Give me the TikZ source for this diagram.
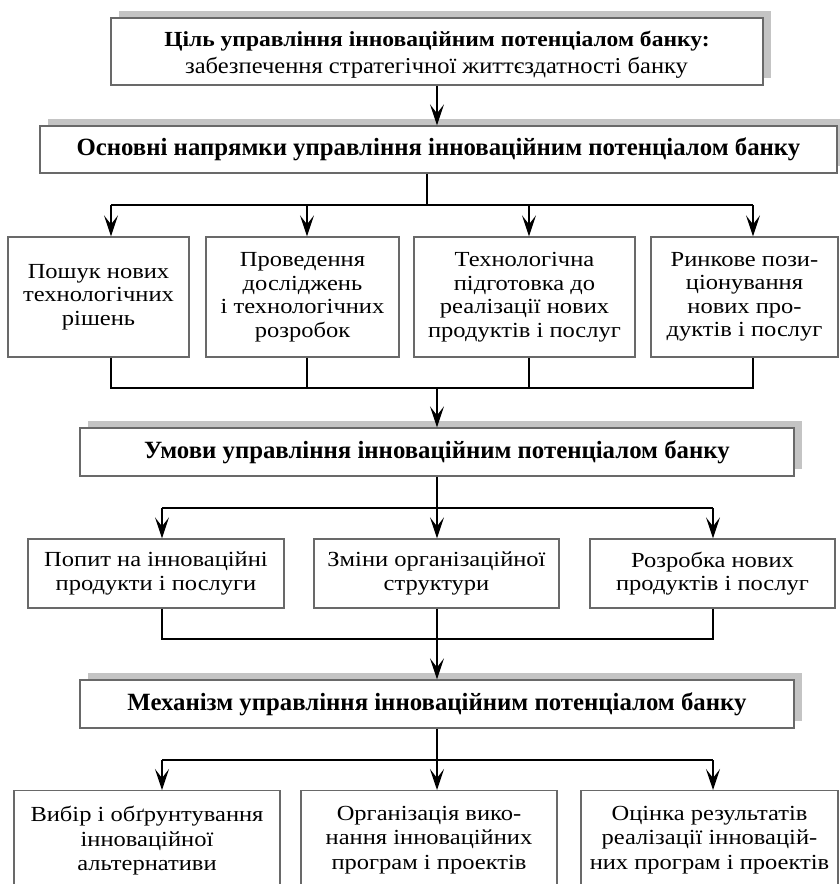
\documentclass[tikz,border=0pt]{standalone}
\usepackage{fontspec}
\setmainfont{Liberation Serif}[FakeStretch=1.14]
\newfontfamily\goalfont{Liberation Serif}[FakeStretch=1.095]
\newfontfamily\goalnormal{Liberation Serif}[FakeStretch=1.08]
\newfontfamily\headfont{Liberation Serif}
\usetikzlibrary{arrows.meta,shadows}
\definecolor{boxgray}{RGB}{105,105,105}
\definecolor{shadowgray}{RGB}{196,196,196}
\tikzset{
  box/.style={draw=boxgray, line width=1.3pt, fill=white, align=center, inner sep=0pt,
    font=\fontsize{21.5}{23.5}\selectfont},
  shadowed/.style={drop shadow={shadow xshift=8pt, shadow yshift=7pt, fill=shadowgray, opacity=1}},
  headbox/.style={box, shadowed, font=\headfont\bfseries\fontsize{24.8}{28}\selectfont},
  txt/.style={align=center, inner sep=0pt, font=\fontsize{21.5}{24.5}\selectfont},
  conn/.style={line width=1.4pt, black},
  arr/.style={conn, -{Stealth[length=21pt,width=14pt,inset=9pt]}},
}
\begin{document}
\begin{tikzpicture}[x=1pt,y=-1pt]
\path[use as bounding box] (0,0) rectangle (840,884);
\clip (0,0) rectangle (840,884);

% level 1
\node[box, shadowed, minimum width=652, minimum height=67] (goal) at (437,51.5) {};
\node[inner sep=0pt, anchor=base, font=\goalfont\bfseries\fontsize{21.5}{25}\selectfont] (g1) at (437,46.7)
  {Ціль управління інноваційним потенціалом банку:};
\node[inner sep=0pt, anchor=base, font=\goalnormal\fontsize{22.7}{25}\selectfont] (g2) at (436.5,73.3)
  {забезпечення стратегічної життєздатності банку};
\node[headbox, minimum width=797, minimum height=47] (dirs) at (438.5,149.5)
  {Основні напрямки управління інноваційним потенціалом банку};

% directions
\node[box, minimum width=181, minimum height=120] (d1) at (98.5,297)
  {Пошук нових\\технологічних\\рішень};
\node[box, minimum width=193, minimum height=120] (d2) at (302.5,297)
  {Проведення\\досліджень\\і технологічних\\розробок};
\node[box, minimum width=221, minimum height=120] (d3) at (524.5,297)
  {Технологічна\\підготовка до\\реалізації нових\\продуктів і послуг};
\node[box, minimum width=187, minimum height=120] (d4) at (744.5,297)
  {Ринкове пози-\\ціонування\\нових про-\\дуктів і послуг};

% conditions
\node[headbox, minimum width=714, minimum height=48] (cond) at (437,452)
  {Умови управління інноваційним потенціалом банку};
\node[box, minimum width=256, minimum height=69] (c1) at (156,573.5)
  {Попит на інноваційні\\продукти і послуги};
\node[box, minimum width=245, minimum height=69] (c2) at (436.5,573.5)
  {Зміни організаційної\\структури};
\node[box, minimum width=245, minimum height=69] (c3) at (712.5,573.5)
  {Розробка нових\\продуктів і послуг};

% mechanism
\node[headbox, minimum width=714, minimum height=48] (mech) at (437,704)
  {Механізм управління інноваційним потенціалом банку};
\node[box, minimum width=266, minimum height=130, anchor=north] (m1) at (147,790) {};
\node[box, minimum width=256, minimum height=130, anchor=north] (m2) at (429,790) {};
\node[box, minimum width=257, minimum height=130, anchor=north] (m3) at (709.5,790) {};
\node[txt, anchor=north] (t1) at (147,806)
  {Вибір і обґрунтування\\інноваційної\\альтернативи};
\node[txt, anchor=north] (t2) at (429,806)
  {Організація вико-\\нання інноваційних\\програм і проектів};
\node[txt, anchor=north] (t3) at (709.5,806)
  {Оцінка результатів\\реалізації інновацій-\\них програм і проектів};

% connectors: goal -> directions
\draw[arr] (goal.south) -- (goal.south |- dirs.north);

\coordinate (j1) at (427,205);
\coordinate (xa) at (111,205);
\coordinate (xb) at (307,205);
\coordinate (xc) at (529,205);
\coordinate (xd) at (753,205);
\draw[conn] (dirs.south -| j1) -- (j1);
\draw[conn] (xa) -- (xd);
\draw[arr] (xa) -- (xa |- d1.north);
\draw[arr] (xb) -- (xb |- d2.north);
\draw[arr] (xc) -- (xc |- d3.north);
\draw[arr] (xd) -- (xd |- d4.north);

\coordinate (k1) at (437,388);
\draw[conn] (d1.south -| xa) -- (xa |- k1) -- (xd |- k1) -- (d4.south -| xd);
\draw[conn] (d2.south -| xb) -- (xb |- k1);
\draw[conn] (d3.south -| xc) -- (xc |- k1);
\draw[arr] (k1) -- (k1 |- cond.north);

% conditions -> boxes
\coordinate (j2) at (437,508);
\coordinate (ya) at (162,508);
\coordinate (yc) at (713,508);
\draw[conn] (ya) -- (yc);
\draw[arr] (cond.south) -- (cond.south |- c2.north);
\draw[arr] (ya) -- (ya |- c1.north);
\draw[arr] (yc) -- (yc |- c3.north);

\coordinate (k2) at (437,639);
\draw[conn] (c1.south -| ya) -- (ya |- k2) -- (yc |- k2) -- (c3.south -| yc);
\draw[arr] (c2.south -| k2) -- (k2 |- mech.north);

% mechanism -> boxes
\coordinate (j3) at (437,760);
\draw[conn] (mech.south) -- (mech.south |- j3);
\draw[conn] (ya |- j3) -- (yc |- j3);
\draw[arr] (ya |- j3) -- (ya |- m1.north);
\draw[arr] (mech.south |- j3) -- (mech.south |- m2.north);
\draw[arr] (yc |- j3) -- (yc |- m3.north);
\end{tikzpicture}
\end{document}
